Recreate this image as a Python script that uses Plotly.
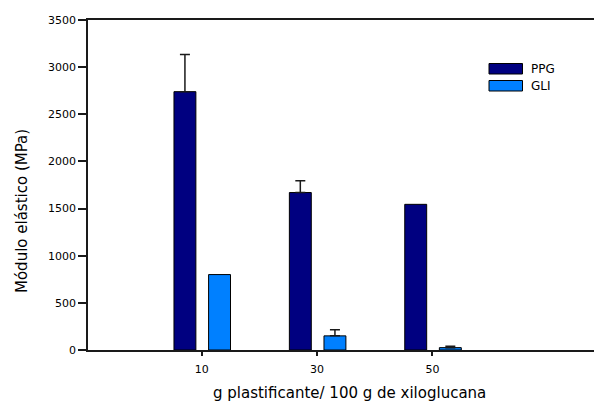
import plotly.graph_objects as go

# Plasticizer content (g per 100 g of xyloglucan)
categories = ["10", "30", "50"]

# Elastic modulus (MPa) and upper standard deviations
ppg_values = [2740, 1670, 1545]
ppg_errors = [395, 125, 0]
gli_values = [800, 150, 25]
gli_errors = [0, 65, 14]

y_ticks = [0, 500, 1000, 1500, 2000, 2500, 3000, 3500]

PPG_COLOR = "#000080"
GLI_COLOR = "#0080ff"
LINE_COLOR = "#1a1a1a"
FONT = "DejaVu Sans, Arial, sans-serif"

BAR_W = 0.19
series = [
    ("PPG", ppg_values, ppg_errors, PPG_COLOR, -0.24),
    ("GLI", gli_values, gli_errors, GLI_COLOR, 0.06),
]

pos = list(range(len(categories)))

fig = go.Figure()

for name, vals, errs, color, off in series:
    fig.add_trace(go.Bar(
        x=pos, y=vals, name=name,
        width=BAR_W, offset=off,
        marker=dict(color=color, line=dict(color="black", width=1)),
        showlegend=False,
    ))
    # upward-only whiskers, skipped where the deviation is zero
    keep = [i for i, e in enumerate(errs) if e > 0]
    fig.add_trace(go.Scatter(
        x=[pos[i] + off + BAR_W / 2 for i in keep],
        y=[vals[i] for i in keep],
        mode="markers",
        marker=dict(size=1, color="rgba(0,0,0,0)"),
        error_y=dict(type="data", symmetric=False,
                     array=[errs[i] for i in keep],
                     arrayminus=[0] * len(keep),
                     color=LINE_COLOR, thickness=1.5, width=5),
        showlegend=False, hoverinfo="skip",
    ))

# Legend drawn as wide swatches with labels (paper coordinates)
W, H = 594, 407
L, R, T, B = 88, 0, 20, 57
pw, ph = W - L - R, H - T - B


def px(x):
    return (x - L) / pw


def py(y):
    return (H - B - y) / ph


for i, (name, _, _, color, _) in enumerate(series):
    top = 63.5 + i * 17
    fig.add_shape(type="rect", xref="paper", yref="paper",
                  x0=px(489), x1=px(522.5), y0=py(top), y1=py(top + 10.5),
                  fillcolor=color, line=dict(color="black", width=1))
    fig.add_annotation(xref="paper", yref="paper", x=px(529), y=py(top + 5.5),
                       text=name, showarrow=False, xanchor="left",
                       yanchor="middle",
                       font=dict(family=FONT, size=12, color="black"))

# Axis titles
fig.add_annotation(xref="paper", yref="paper", x=px(349), y=py(393),
                   text="g plastificante/ 100 g de xiloglucana",
                   showarrow=False, xanchor="center", yanchor="middle",
                   font=dict(family=FONT, size=15, color="black"))
fig.add_annotation(xref="paper", yref="paper", x=px(22), y=py(211),
                   text="Módulo elástico (MPa)", textangle=-90,
                   showarrow=False, xanchor="center", yanchor="middle",
                   font=dict(family=FONT, size=15, color="black"))

fig.update_layout(
    width=W, height=H,
    margin=dict(l=L, r=R, t=T, b=B),
    paper_bgcolor="white", plot_bgcolor="white",
    barmode="overlay",
    font=dict(family=FONT, size=11, color="black"),
    xaxis=dict(
        range=[-0.985, 3.40],
        tickmode="array", tickvals=pos, ticktext=categories,
        ticks="outside", ticklen=4, tickwidth=1.5, tickcolor=LINE_COLOR,
        ticklabelstandoff=4,
        showline=True, linecolor=LINE_COLOR, linewidth=1.5, mirror=True,
        showgrid=False, zeroline=False,
        tickfont=dict(family=FONT, size=11),
    ),
    yaxis=dict(
        range=[0, 3500],
        tickmode="array", tickvals=y_ticks,
        ticks="outside", ticklen=8, tickwidth=1.5, tickcolor=LINE_COLOR,
        showline=True, linecolor=LINE_COLOR, linewidth=1.5,
        showgrid=False, zeroline=False,
        tickfont=dict(family=FONT, size=11),
    ),
)

fig.write_html("out.html")
